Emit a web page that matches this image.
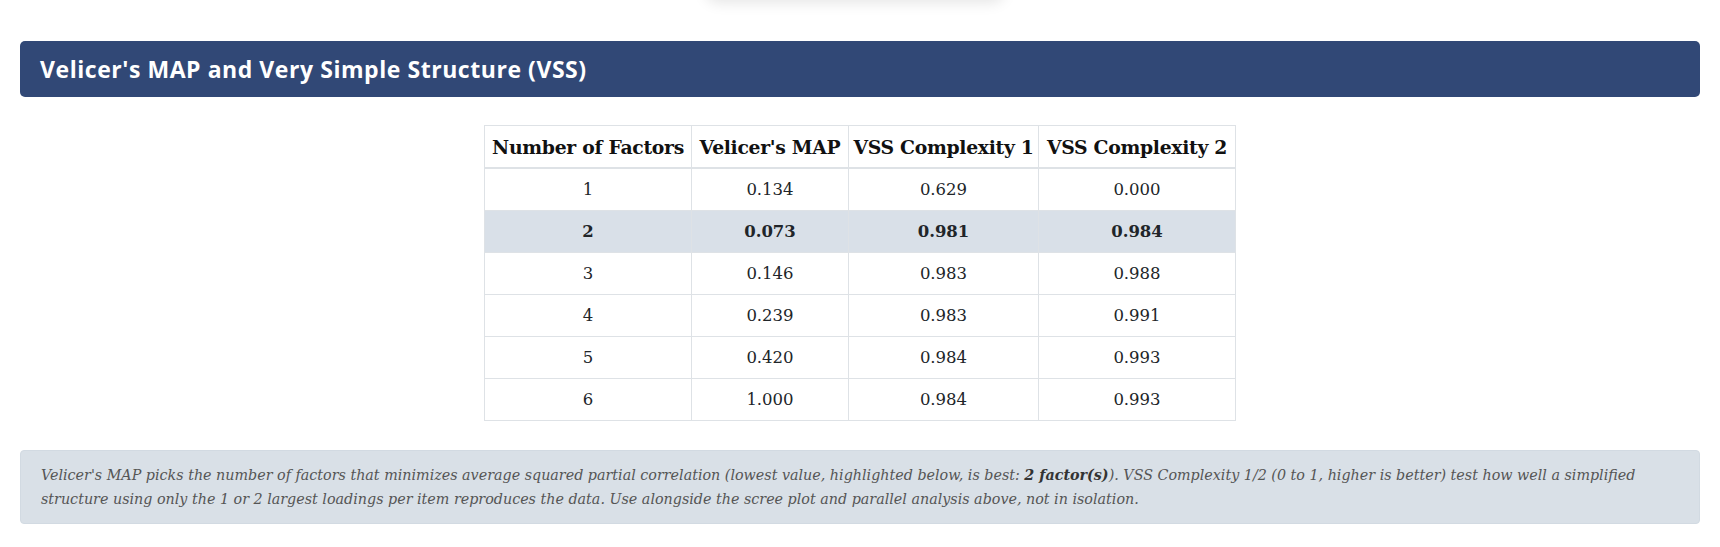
<!DOCTYPE html>
<html>
<head>
<meta charset="utf-8">
<script src="https://cdn.jsdelivr.net/npm/chart.js@4"></script>
<style>
  html, body { margin: 0; padding: 0; background: #fff; }
  body { width: 1720px; height: 547px; overflow: hidden; position: relative; font-family: "DejaVu Serif", serif; }
  .shade { position: absolute; left: 705px; top: -30px; width: 300px; height: 30px; border-radius: 14px; box-shadow: 0 3px 14px rgba(0,0,0,0.10); background: #fff; }
  .bar { position: absolute; left: 20px; top: 41px; width: 1680px; height: 56px; background: #314876; border-radius: 5px; color: #fff;
         font-family: "Open Sans", Lato, sans-serif; font-weight: 700; font-size: 23px; line-height: 56px; box-sizing: border-box; padding-left: 20px; letter-spacing: 0.55px; }
  .wrap { position: absolute; left: 484px; top: 125px; }
  table { border-collapse: collapse; color: #212529; font-size: 16.5px; table-layout: fixed; }
  th, td { border: 1px solid #dee2e6; text-align: center; padding: 0; height: 41px; white-space: nowrap; }
  th { font-weight: 700; font-size: 18.8px; letter-spacing: -0.3px; border-bottom: 2px solid #dee2e6; color: #111; }
  tr.best td { background: #d9e0e8; font-weight: 700; }
  .note { position: absolute; left: 20px; top: 450px; width: 1680px; height: 74px; background: #d9e0e7; border-radius: 4px; box-sizing: border-box;
          padding: 13px 20px 0 20px; font-style: italic; font-size: 14.3px; line-height: 23.5px; color: #555; border: 1px solid #d2dae2; }
  .note div { white-space: nowrap; }
  .note b { color: #333; }
</style>
</head>
<body>
<div class="shade"></div>
<div class="bar">Velicer's MAP and Very Simple Structure (VSS)</div>
<div class="wrap"><table id="vss"></table></div>
<div class="note">
  <div>Velicer's MAP picks the number of factors that minimizes average squared partial correlation (lowest value, highlighted below, is best: <b>2 factor(s)</b>). VSS Complexity 1/2 (0 to 1, higher is better) test how well a simplified</div>
  <div>structure using only the 1 or 2 largest loadings per item reproduces the data. Use alongside the scree plot and parallel analysis above, not in isolation.</div>
</div>
<script>
// datos de la tabla
const columns = ["Number of Factors", "Velicer's MAP", "VSS Complexity 1", "VSS Complexity 2"];
const factors = [1, 2, 3, 4, 5, 6];
const mapValues = [0.134, 0.073, 0.146, 0.239, 0.420, 1.000];
const vss1 = [0.629, 0.981, 0.983, 0.983, 0.984, 0.984];
const vss2 = [0.000, 0.984, 0.988, 0.991, 0.993, 0.993];
const colWidths = [207, 157, 190, 197];

// el mejor es el MAP mas bajo
const best = mapValues.indexOf(Math.min(...mapValues));

const table = document.getElementById('vss');
table.innerHTML =
  '<colgroup>' + colWidths.map(w => `<col style="width:${w}px">`).join('') + '</colgroup>' +
  '<thead><tr>' + columns.map(c => `<th>${c}</th>`).join('') + '</tr></thead>' +
  '<tbody>' + factors.map((f, i) => `
    <tr class="${i === best ? 'best' : ''}">
      <td>${f}</td>
      <td>${mapValues[i].toFixed(3)}</td>
      <td>${vss1[i].toFixed(3)}</td>
      <td>${vss2[i].toFixed(3)}</td>
    </tr>`).join('') + '</tbody>';
table.style.width = colWidths.reduce((a, b) => a + b, 0) + 'px';
</script>
</body>
</html>
